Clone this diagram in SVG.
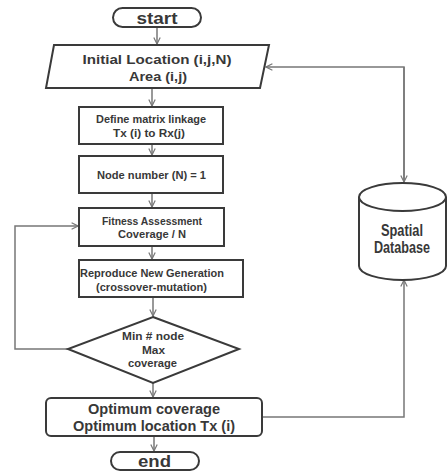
<svg xmlns="http://www.w3.org/2000/svg" width="448" height="472" viewBox="0 0 448 472">
<defs>
<style>
.n{fill:#fff;stroke:#3a3a3a;stroke-width:2}
.c{fill:none;stroke:#777;stroke-width:1.5}
text{font-family:"Liberation Sans",Arial,sans-serif;font-weight:bold;fill:#383838;text-anchor:middle}
</style>
<marker id="a" viewBox="0 0 10 10" refX="9" refY="5" markerWidth="8" markerHeight="8" orient="auto" markerUnits="userSpaceOnUse">
<path d="M1,1 L9,5 L1,9" fill="none" stroke="#777" stroke-width="1.5"/>
</marker>
</defs>
<g id="connectors">
<path class="c" d="M157,27 V44" marker-end="url(#a)"/>
<path class="c" d="M152,88 V106" marker-end="url(#a)"/>
<path class="c" d="M152,144 V155" marker-end="url(#a)"/>
<path class="c" d="M152,193 V207" marker-end="url(#a)"/>
<path class="c" d="M152,246 V259" marker-end="url(#a)"/>
<path class="c" d="M153,297 V316" marker-end="url(#a)"/>
<path class="c" d="M68,349 H15 V226 H78" marker-end="url(#a)"/>
<path class="c" d="M153,383 V397" marker-end="url(#a)"/>
<path class="c" d="M154,436 V451" marker-end="url(#a)"/>
<path class="c" d="M404,182 V67 H266" marker-end="url(#a)"/>
<path class="c" d="M404,67 V182" marker-end="url(#a)"/>
<path class="c" d="M262,417 H404 V280" marker-end="url(#a)"/>
</g>
<g id="start">
<rect class="n" x="113" y="8" width="88" height="19" rx="9.5"/>
<text x="157" y="23.5" font-size="17" textLength="41" lengthAdjust="spacingAndGlyphs">start</text>
</g>
<g id="initial">
<polygon class="n" points="54,45 269,45 260,88 46,88"/>
<text x="157" y="64" font-size="13" textLength="149" lengthAdjust="spacingAndGlyphs">Initial  Location (i,j,N)</text>
<text x="158" y="81" font-size="13" textLength="58" lengthAdjust="spacingAndGlyphs">Area (i,j)</text>
</g>
<g id="define">
<rect class="n" x="79" y="107" width="144" height="37"/>
<text x="151" y="123" font-size="10" textLength="110" lengthAdjust="spacingAndGlyphs">Define matrix linkage</text>
<text x="149" y="137" font-size="10" textLength="72" lengthAdjust="spacingAndGlyphs">Tx (i) to Rx(j)</text>
</g>
<g id="node">
<rect class="n" x="79" y="156" width="144" height="37"/>
<text x="151.5" y="179" font-size="11" textLength="109" lengthAdjust="spacingAndGlyphs">Node number (N) = 1</text>
</g>
<g id="fitness">
<rect class="n" x="79" y="208" width="145" height="38"/>
<text x="152" y="224.5" font-size="10" textLength="100" lengthAdjust="spacingAndGlyphs">Fitness Assessment</text>
<text x="152" y="238" font-size="10" textLength="68" lengthAdjust="spacingAndGlyphs">Coverage / N</text>
</g>
<g id="reproduce">
<rect class="n" x="79" y="260" width="164" height="37"/>
<text x="152" y="276.5" font-size="10.5" textLength="144" lengthAdjust="spacingAndGlyphs">Reproduce New Generation</text>
<text x="151.5" y="290.5" font-size="10.5" textLength="111" lengthAdjust="spacingAndGlyphs">(crossover-mutation)</text>
</g>
<g id="decision">
<polygon class="n" points="153,317 239,349 153,383 68,349"/>
<text x="153" y="339.5" font-size="10" textLength="62" lengthAdjust="spacingAndGlyphs">Min # node</text>
<text x="153.5" y="353.5" font-size="10" textLength="23" lengthAdjust="spacingAndGlyphs">Max</text>
<text x="152.5" y="367" font-size="10" textLength="49" lengthAdjust="spacingAndGlyphs">coverage</text>
</g>
<g id="optimum">
<rect class="n" x="46" y="398" width="216" height="38" rx="5"/>
<text x="154" y="414" font-size="14" textLength="132" lengthAdjust="spacingAndGlyphs">Optimum coverage</text>
<text x="154" y="431" font-size="14" textLength="162" lengthAdjust="spacingAndGlyphs">Optimum location  Tx (i)</text>
</g>
<g id="end">
<rect class="n" x="111" y="452" width="88" height="18" rx="9"/>
<text x="154.5" y="467" font-size="17" textLength="33" lengthAdjust="spacingAndGlyphs">end</text>
</g>
<g id="database">
<path class="n" d="M359,197 A43.5,14 0 0 1 446,197 V266 A43.5,14 0 0 1 359,266 Z"/>
<path class="n" d="M359,197 A43.5,14 0 0 0 446,197" fill="none"/>
<text x="402" y="236" font-size="16" textLength="42" lengthAdjust="spacingAndGlyphs">Spatial</text>
<text x="402" y="253" font-size="16" textLength="56" lengthAdjust="spacingAndGlyphs">Database</text>
</g>
</svg>
